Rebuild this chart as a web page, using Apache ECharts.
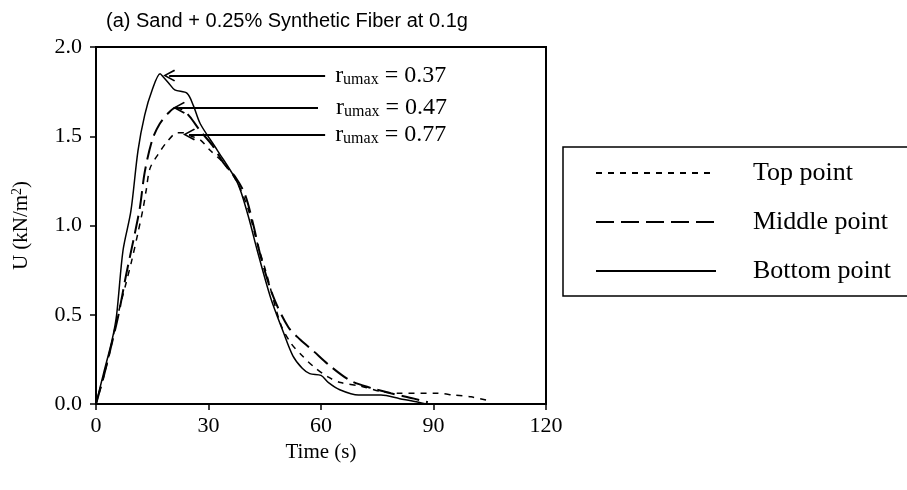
<!DOCTYPE html>
<html>
<head>
<meta charset="utf-8">
<script src="https://cdn.jsdelivr.net/npm/echarts@6/dist/echarts.min.js"></script>
<style>
  html, body { margin: 0; padding: 0; background: #fff; }
  #chart { width: 907px; height: 490px; }
</style>
</head>
<body>
<div id="chart"></div>
<script>
// ---- data ----
const topT = [0, 2, 4, 5.6, 7.8, 9.6, 11.2, 12.6, 13.4, 14.4, 16.6, 19, 21.7, 23.5, 25.5, 27.8, 30.5, 34, 37.7, 40.6, 43, 45.2, 49.2, 52, 55, 58, 62, 65.2, 70.6, 75.9, 81, 91, 95.5, 100, 104.5];
const topU = [0, 0.15, 0.32, 0.48, 0.66, 0.81, 0.96, 1.10, 1.2, 1.32, 1.40, 1.47, 1.52, 1.52, 1.50, 1.48, 1.42, 1.35, 1.24, 1.09, 0.9, 0.75, 0.45, 0.34, 0.27, 0.21, 0.15, 0.12, 0.10, 0.07, 0.06, 0.06, 0.05, 0.04, 0.02];

const midT = [0, 2, 4, 6, 8, 10, 11.7, 13, 15, 17, 19.3, 21.2, 23, 25, 27.8, 31, 34, 37.2, 39.8, 42, 44, 47.3, 51.3, 54.5, 57.8, 62.6, 67.9, 73.3, 78.6, 84.8, 88.5];
const midU = [0, 0.15, 0.32, 0.5, 0.72, 0.92, 1.1, 1.3, 1.48, 1.57, 1.63, 1.66, 1.65, 1.61, 1.53, 1.45, 1.35, 1.27, 1.17, 1.0, 0.82, 0.6, 0.43, 0.36, 0.3, 0.21, 0.13, 0.09, 0.06, 0.03, 0.01];

const botT = [0, 2, 4.3, 5.5, 7.2, 9.3, 11.2, 13, 15, 17.1, 18, 19.3, 21, 24.3, 26, 27.8, 32.4, 37.7, 40.5, 43, 46.5, 50, 52.5, 55, 57, 60, 62, 65, 70, 76, 81, 86, 88];
const botU = [0, 0.17, 0.36, 0.5, 0.86, 1.08, 1.42, 1.62, 1.76, 1.85, 1.83, 1.80, 1.76, 1.74, 1.67, 1.57, 1.42, 1.24, 1.06, 0.86, 0.60, 0.40, 0.27, 0.2, 0.17, 0.16, 0.12, 0.08, 0.05, 0.05, 0.03, 0.01, 0];

const seriesNames = ['Top point', 'Middle point', 'Bottom point'];

// peak arrows: tip time, end time, level, ratio text
const arrowTip = [17.9, 20.5, 23.2];
const arrowEnd = [61.1, 59.2, 61.1];
const arrowLevel = [1.84, 1.66, 1.51];
const ratioLabels = ['0.37', '0.47', '0.77'];

const xTicks = { min: 0, max: 120, interval: 30 };
const yTicks = { min: 0, max: 2, interval: 0.5 };

const pairs = (t, u) => t.map((v, i) => [v, u[i]]);
const serif = 'Liberation Serif';

// open chevron pointing "up" (rotated by markLine)
const chevron = 'path://M6,0 L12,11 L10.6,12 L6,3.2 L1.4,12 L0,11 Z';

const arrowData = arrowTip.map((tip, i) => [
  { coord: [tip + 1.6, arrowLevel[i]] },
  { coord: [arrowEnd[i], arrowLevel[i]], label: { distance: i === 1 ? 18 : 10 }, ratio: ratioLabels[i] }
]);

const chart = echarts.init(document.getElementById('chart'));
chart.setOption({
  animation: false,
  backgroundColor: '#fff',
  title: {
    text: '(a) Sand + 0.25% Synthetic Fiber at 0.1g',
    left: 101, top: 6,
    textStyle: { fontFamily: 'Liberation Sans', fontSize: 20, fontWeight: 'normal', color: '#000' }
  },
  legend: {
    orient: 'vertical',
    left: 563, top: 147,
    padding: [13, 30, 12, 32],
    itemWidth: 120, itemHeight: 14, itemGap: 23,
    borderColor: '#000', borderWidth: 1.5,
    data: seriesNames,
    itemStyle: { opacity: 0 },
    textStyle: { fontFamily: serif, fontSize: 26, color: '#000', lineHeight: 26, padding: [0, 0, 0, 32] }
  },
  grid: {
    left: 96, right: 361, top: 47, bottom: 86,
    show: true, borderColor: '#000', borderWidth: 2
  },
  xAxis: {
    type: 'value', ...xTicks,
    name: 'Time (s)', nameLocation: 'middle', nameGap: 37,
    nameTextStyle: { fontFamily: serif, fontSize: 21, color: '#000' },
    axisLine: { lineStyle: { color: '#000', width: 2 } },
    axisTick: { inside: false, length: 6, lineStyle: { color: '#000', width: 1.5 } },
    axisLabel: { fontFamily: serif, fontSize: 22, color: '#000', margin: 11 },
    splitLine: { show: false }
  },
  yAxis: {
    type: 'value', ...yTicks,
    name: 'U (kN/m{sup|2})', nameLocation: 'middle', nameGap: 63,
    nameTextStyle: {
      fontFamily: serif, fontSize: 21, color: '#000',
      rich: { sup: { fontFamily: serif, fontSize: 14, color: '#000', padding: [0, 0, 9, 0] } }
    },
    axisLine: { lineStyle: { color: '#000', width: 2 } },
    axisTick: { inside: false, length: 6, lineStyle: { color: '#000', width: 1.5 } },
    axisLabel: { fontFamily: serif, fontSize: 22, color: '#000', margin: 14, formatter: v => v.toFixed(1) },
    splitLine: { show: false }
  },
  series: [
    {
      name: seriesNames[0], type: 'line', data: pairs(topT, topU),
      symbol: 'none', smooth: 0.3, color: '#000',
      lineStyle: { color: '#000', width: 1.5, type: [6, 6] }
    },
    {
      name: seriesNames[1], type: 'line', data: pairs(midT, midU),
      symbol: 'none', smooth: 0.3, color: '#000',
      lineStyle: { color: '#000', width: 2, type: [18, 7] }
    },
    {
      name: seriesNames[2], type: 'line', data: pairs(botT, botU),
      symbol: 'none', smooth: 0.3, color: '#000',
      lineStyle: { color: '#000', width: 1.5 },
      markLine: {
        silent: true, animation: false,
        symbol: [chevron, 'none'], symbolSize: [12, 12],
        lineStyle: { color: '#000', width: 2, type: 'solid' },
        label: {
          show: true, position: 'end', color: '#000',
          formatter: p => '{a|r}{s|umax}{a| = ' + p.data.ratio + '}',
          rich: {
            a: { fontFamily: serif, fontSize: 24, color: '#000' },
            s: { fontFamily: serif, fontSize: 16, color: '#000', padding: [9, 0, 0, 0] }
          }
        },
        emphasis: { disabled: true },
        data: arrowData
      }
    }
  ]
});
</script>
</body>
</html>
